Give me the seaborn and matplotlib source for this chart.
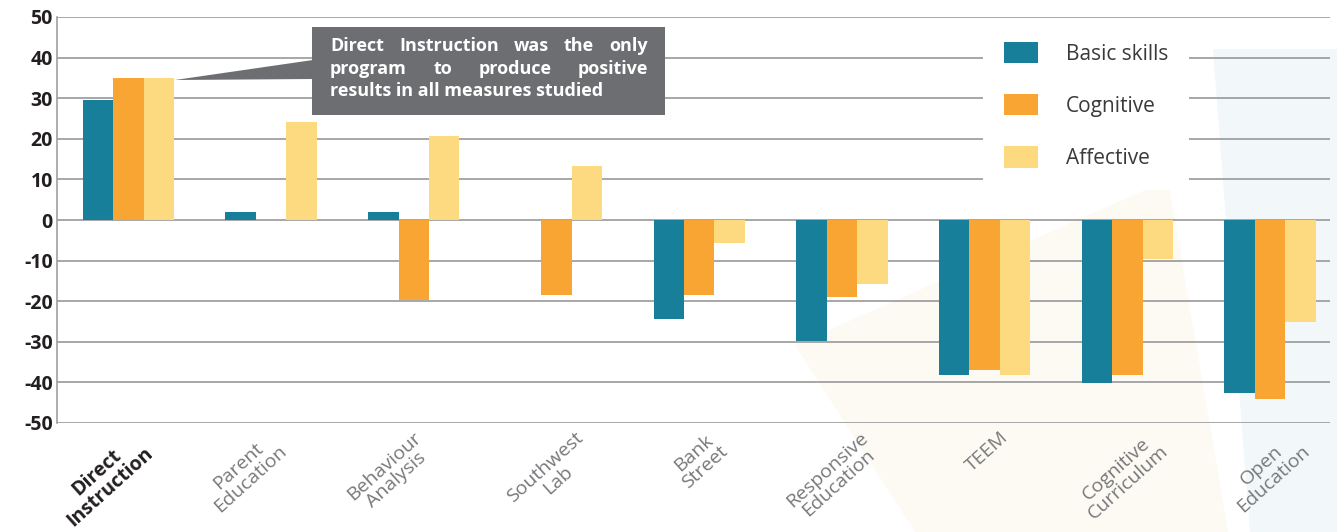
import numpy as np
import pandas as pd
import matplotlib
matplotlib.use("Agg")
import matplotlib.pyplot as plt
import matplotlib.transforms as mtransforms
import seaborn as sns
from matplotlib.patches import Polygon, Rectangle

# data
programs = ["Direct\nInstruction", "Parent\nEducation", "Behaviour\nAnalysis", "Southwest\nLab",
            "Bank\nStreet", "Responsive\nEducation", "TEEM", "Cognitive\nCurriculum", "Open\nEducation"]
measures = ["Basic skills", "Cognitive", "Affective"]
basic_skills = [29.5, 2, 2, np.nan, -24.5, -29.7, -38.1, -40.1, -42.5]
cognitive = [35, np.nan, -19.6, -18.5, -18.5, -18.9, -36.9, -38.1, -44]
affective = [35, 24.2, 20.8, 13.4, -5.6, -15.7, -38.1, -9.5, -25]
yticks = [50, 40, 30, 20, 10, 0, -10, -20, -30, -40, -50]
colors = ["#187F9B", "#F9A533", "#FDD980"]
note_lines = ["Direct Instruction was the only",
              "program to produce positive",
              "results in all measures studied"]

df = pd.DataFrame({"program": programs * 3,
                   "measure": np.repeat(measures, len(programs)),
                   "value": basic_skills + cognitive + affective}).dropna()

sns.set_style("white")
plt.rcParams["font.family"] = ["Open Sans", "DejaVu Sans"]
plt.rcParams["axes.unicode_minus"] = False

W, H = 1337, 532
fig = plt.figure(figsize=(W / 100, H / 100), dpi=100)

def fx(x):
    return x / W

def fy(y):
    return 1 - y / H

# decorative background shapes
fig.patches.append(Polygon([(fx(1213), fy(49)), (fx(W), fy(49)), (fx(W), fy(H)), (fx(1250), fy(H)),
                            (fx(1232), fy(300))], closed=True, transform=fig.transFigure,
                           facecolor="#F2F7FA", edgecolor="none", zorder=0))
fig.patches.append(Polygon([(fx(1168), fy(180)), (fx(795), fy(345)), (fx(915), fy(H)), (fx(1228), fy(H))],
                           closed=True, transform=fig.transFigure,
                           facecolor="#FDFAF4", edgecolor="none", zorder=0))

ax = fig.add_axes([fx(57), fy(423), fx(1330) - fx(57), fy(17) - fy(423)])
ax.patch.set_alpha(0)
ax.set_zorder(2)

sns.barplot(data=df, x="program", y="value", hue="measure", order=programs, hue_order=measures,
            palette=colors, saturation=1, width=0.64, gap=0, linewidth=0, ax=ax, zorder=3)

ax.set_ylim(-50, 50)
ax.set_xlim(-0.5, 8.42)
ax.set_yticks(yticks)
ax.set_yticklabels([str(t) for t in yticks], fontsize=14, fontweight="bold", color="#231F20")
ax.yaxis.grid(True, color="#A0A0A0", lw=1.3, zorder=0)
ax.set_axisbelow(True)
ax.tick_params(axis="both", length=0)
ax.tick_params(axis="y", pad=3)
ax.tick_params(axis="x", pad=4)
ax.set_xlabel("")
ax.set_ylabel("")
for s in ["top", "right", "bottom"]:
    ax.spines[s].set_visible(False)
ax.spines["left"].set_color("#A0A0A0")
ax.spines["left"].set_linewidth(1.2)

# x labels, nudged like the original layout
label_dx = [-25, -27, -24, -5, 0, -9, 2, -5, -3]
ax.set_xticks(range(len(programs)))
ax.set_xticklabels(programs, rotation=42, ha="center", va="top", fontsize=14,
                   color="#77787B", multialignment="center", linespacing=1.0)
for lab, dx in zip(ax.get_xticklabels(), label_dx):
    lab.set_transform(lab.get_transform() + mtransforms.ScaledTranslation(dx / 100, 0, fig.dpi_scale_trans))
first = ax.get_xticklabels()[0]
first.set_fontweight("bold")
first.set_color("#231F20")

# legend
leg = ax.legend(loc="upper left", bbox_to_anchor=(fx(983), fy(21)), bbox_transform=fig.transFigure,
                frameon=True, fancybox=False, fontsize=15, handlelength=1.63, handleheight=1.2,
                handletextpad=1.35, labelspacing=1.42, borderpad=1.0, borderaxespad=0)
leg.get_frame().set_facecolor("white")
leg.get_frame().set_edgecolor("none")
leg.get_frame().set_alpha(1)
for t in leg.get_texts():
    t.set_color("#3A3A3C")

# callout box
fig.patches.append(Rectangle((fx(312), fy(115)), fx(665) - fx(312), fy(27) - fy(115),
                             transform=fig.transFigure, facecolor="#6D6E71", edgecolor="none", zorder=5))
fig.patches.append(Polygon([(fx(175), fy(80)), (fx(313), fy(60)), (fx(313), fy(79))], closed=True,
                           transform=fig.transFigure, facecolor="#6D6E71", edgecolor="none", zorder=5))

renderer = fig.canvas.get_renderer()
x0, x1 = 330, 648
line_y = [46, 69, 91]
for i, line in enumerate(note_lines):
    words = line.split(" ")
    if i == len(note_lines) - 1:
        fig.text(fx(x0), fy(line_y[i]), line, color="white", fontsize=13, fontweight="bold",
                 va="center", ha="left", zorder=6)
        continue
    texts = [fig.text(0, fy(line_y[i]), w, color="white", fontsize=13, fontweight="bold",
                      va="center", ha="left", zorder=6) for w in words]
    widths = [t.get_window_extent(renderer).width for t in texts]
    gap = (x1 - x0 - sum(widths)) / (len(words) - 1)
    pos = x0
    for t, w in zip(texts, widths):
        t.set_x(fx(pos))
        pos += w + gap

fig.savefig("out.png", dpi=100)
